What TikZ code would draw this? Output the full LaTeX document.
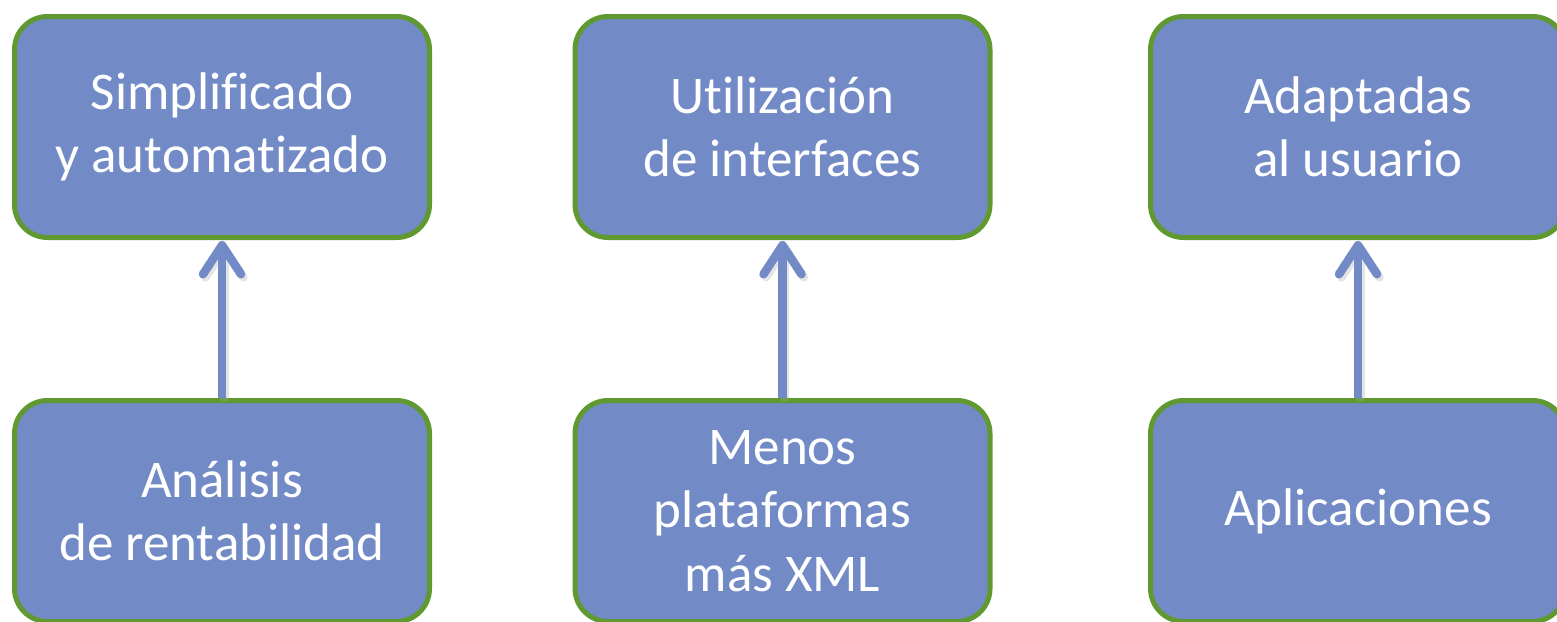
\documentclass[tikz,border=0pt]{standalone}
\usepackage{fontspec}
\setmainfont{Carlito}[RawFeature={-liga;-clig;-dlig;-calt}]
\usetikzlibrary{arrows.meta}
\definecolor{boxfill}{RGB}{114,138,198}
\definecolor{boxline}{RGB}{96,153,48}
\tikzset{
  x=1pt, y=1pt,
  card/.style={draw=boxline, line width=5pt, fill=boxfill, rounded corners=33pt,
    minimum width=415pt, minimum height=221pt, align=center, text=white,
    font=\fontsize{53}{63.5}\selectfont, inner sep=0pt},
  uparrow/.style={draw=boxfill, line width=8.5pt,
    -{Straight Barb[length=29pt, width=38pt, line cap=round, line join=round]}},
  upshadow/.style={draw=black!35, opacity=0.3, line width=8.5pt,
    -{Straight Barb[length=29pt, width=38pt, line cap=round, line join=round]}}
}
\begin{document}
\begin{tikzpicture}
  \useasboundingbox (0,0) rectangle (1557,-621);
  \clip (0,0) rectangle (1557,-621);

  % upper row
  \node[card] (t1) at (222,-127)   {Simplificado\\y automatizado};
  \node[card] (t2) at (782.5,-127) {Utilización\\de interfaces};
  \node[card] (t3) at (1358,-127)  {Adaptadas\\al usuario};

  % lower row
  \node[card] (b1) at (222,-511)   {Análisis\\de rentabilidad};
  \node[card] (b2) at (782.5,-511) {Menos\\plataformas\\más XML};
  \node[card] (b3) at (1358,-511)  {Aplicaciones};

  % connectors with a soft shadow
  \foreach \i in {1,2,3} {
    \draw[upshadow] ([shift={(2.5,-3)}]b\i.north) -- ([shift={(2.5,-4)}]t\i.south);
    \draw[uparrow] (b\i.north) -- ([yshift=-1pt]t\i.south);
  }
\end{tikzpicture}
\end{document}
